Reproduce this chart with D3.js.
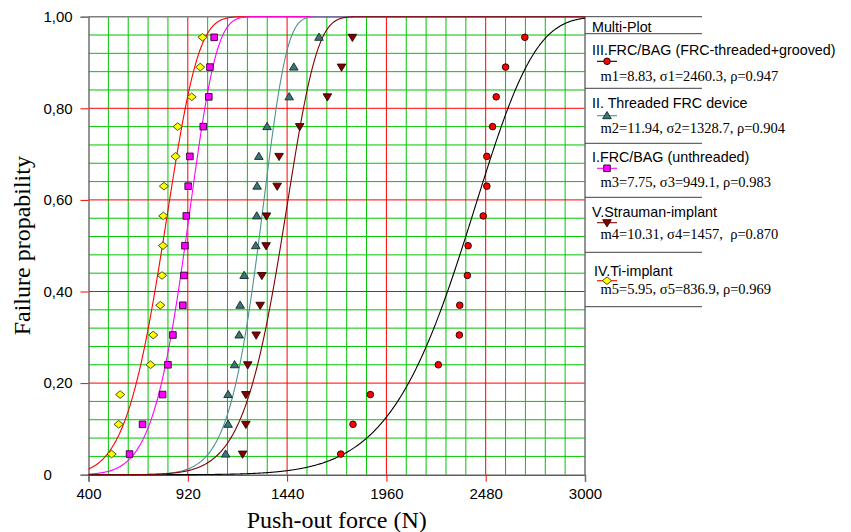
<!DOCTYPE html>
<html>
<head>
<meta charset="utf-8">
<script src="https://cdn.jsdelivr.net/npm/d3@7"></script>
<style>
  body { margin: 0; background: #fff; }
  svg { display: block; font-family: "Liberation Sans", Arial, sans-serif; }
</style>
</head>
<body>
<div id="vis"></div>
<script>
const width = 851;
const height = 532;

// median-rank failure probabilities, n = 15 per group
const ranks = [0.045, 0.110, 0.175, 0.240, 0.305, 0.370, 0.435, 0.500, 0.565, 0.630, 0.695, 0.760, 0.825, 0.890, 0.955];

// push-out forces (N), one array per group
const forceIII = [1721, 1785, 1876, 2232, 2342, 2344, 2384, 2388, 2467, 2486, 2486, 2516, 2535, 2584, 2685];
const forceII  = [1118, 1131, 1131, 1165, 1189, 1194, 1215, 1276, 1281, 1283, 1292, 1335, 1451, 1475, 1607];
const forceI   = [615, 683, 788, 816, 842, 894, 900, 905, 912, 922, 931, 1001, 1030, 1036, 1058];
const forceV   = [1207, 1224, 1224, 1234, 1278, 1299, 1308, 1330, 1332, 1388, 1398, 1506, 1651, 1725, 1782];
const forceIV  = [521, 558, 566, 725, 739, 776, 785, 790, 792, 795, 856, 867, 940, 985, 997];

// Weibull fits from the legend
const groupNames = ["III.FRC/BAG (FRC-threaded+grooved)", "II. Threaded FRC device", "I.FRC/BAG (unthreaded)", "V.Strauman-implant", "IV.Ti-implant"];
const shapes = [8.83, 11.94, 7.75, 10.31, 5.95];
const scales = [2460.3, 1328.7, 949.1, 1457, 836.9];
const rhos = ["0.947", "0.904", "0.983", "0.870", "0.969"];

const xTicks = [400, 920, 1440, 1960, 2480, 3000];
const yTicks = [0, 0.2, 0.4, 0.6, 0.8, 1.0];

const forces = [forceIII, forceII, forceI, forceV, forceIV];
const lineColors = ["#000000", "#4f9292", "#ff00ff", "#800000", "#ff0000"];
const fillColors = ["#ff0000", "#3d7575", "#ff00ff", "#800000", "#ffff00"];
const strokeColors = ["#200000", "#102828", "#300030", "#300000", "#404000"];

// custom marker shapes
const ellipse = { draw(ctx) { ctx.moveTo(3.3, 0); ctx.arc(0, 0, 3.3, 0, 2 * Math.PI); } };
const triUp = { draw(ctx) { ctx.moveTo(0, -4.2); ctx.lineTo(4.3, 3); ctx.lineTo(-4.3, 3); ctx.closePath(); } };
const triDown = { draw(ctx) { ctx.moveTo(0, 4.2); ctx.lineTo(4.3, -3); ctx.lineTo(-4.3, -3); ctx.closePath(); } };
const square = { draw(ctx) { ctx.rect(-3.3, -3.3, 6.6, 6.6); } };
const diamond = { draw(ctx) { ctx.moveTo(0, -3.8); ctx.lineTo(4.6, 0); ctx.lineTo(0, 3.8); ctx.lineTo(-4.6, 0); ctx.closePath(); } };
const symbols = [ellipse, triUp, square, triDown, diamond];

const svg = d3.select("#vis").append("svg")
  .attr("width", width)
  .attr("height", height);

svg.append("rect").attr("width", width).attr("height", height).attr("fill", "#fff");

const x = d3.scaleLinear().domain([400, 3000]).range([88.5, 585]);
const y = d3.scaleLinear().domain([0, 1]).range([474.7, 16.7]);

// grid
const minorX = d3.range(400, 3001, 104).filter(d => !xTicks.includes(d));
const minorY = d3.range(0, 1.001, 0.04).filter(d => yTicks.every(t => Math.abs(t - d) > 1e-6));

const grid = svg.append("g");
grid.selectAll(".gx").data(minorX).enter().append("line")
  .attr("x1", d => x(d)).attr("x2", d => x(d))
  .attr("y1", y(0)).attr("y2", y(1))
  .attr("stroke", "#00c400").attr("stroke-width", 1);
grid.selectAll(".gy").data(minorY).enter().append("line")
  .attr("x1", x(400)).attr("x2", x(3000))
  .attr("y1", d => y(d)).attr("y2", d => y(d))
  .attr("stroke", "#00c400").attr("stroke-width", 1);
grid.selectAll(".rx").data(xTicks.slice(1, -1)).enter().append("line")
  .attr("x1", d => x(d)).attr("x2", d => x(d))
  .attr("y1", y(0)).attr("y2", y(1))
  .attr("stroke", "#ff0000").attr("stroke-width", 1);
grid.selectAll(".ry").data(yTicks.slice(1, -1)).enter().append("line")
  .attr("x1", x(400)).attr("x2", x(3000))
  .attr("y1", d => y(d)).attr("y2", d => y(d))
  .attr("stroke", "#ff0000").attr("stroke-width", 1);

// frame
svg.append("line").attr("x1", x(400)).attr("x2", x(3000)).attr("y1", y(1)).attr("y2", y(1))
  .attr("stroke", "#808080").attr("stroke-width", 1.5);
svg.append("line").attr("x1", x(3000)).attr("x2", x(3000)).attr("y1", y(1)).attr("y2", y(0))
  .attr("stroke", "#707070").attr("stroke-width", 1.5);

// axes
const tickColor = (d, first, last) => (d === first || d === last) ? "#707070" : "#ff0000";

const xAxis = svg.append("g")
  .attr("transform", `translate(0,${y(0)})`)
  .call(d3.axisBottom(x).tickValues(xTicks).tickSize(7).tickPadding(6.5).tickFormat(d3.format("d")));
xAxis.select(".domain").attr("stroke", "#606060").attr("stroke-width", 1.5);
xAxis.selectAll(".tick line").attr("stroke", d => tickColor(d, 400, 3000)).attr("stroke-width", 1);
xAxis.selectAll(".tick text").attr("fill", "#000").style("font-size", "15px")
  .style("font-family", "'Liberation Sans', Arial, sans-serif");

const yAxis = svg.append("g")
  .attr("transform", `translate(${x(400)},0)`)
  .call(d3.axisLeft(y).tickValues(yTicks).tickSize(8)
    .tickFormat(d => d === 0 ? "0" : d.toFixed(2).replace(".", ",")));
yAxis.select(".domain").attr("stroke", "#707070").attr("stroke-width", 1.5);
yAxis.selectAll(".tick line").attr("stroke", d => tickColor(d, 0, 1)).attr("stroke-width", 1);
yAxis.selectAll(".tick text").attr("fill", "#000").attr("text-anchor", "start").attr("x", -45)
  .style("font-size", "15px").style("font-family", "'Liberation Sans', Arial, sans-serif");

// fitted Weibull curves
const forceSteps = d3.range(400, 3001, 4);
const line = d3.line().x(d => x(d[0])).y(d => y(d[1]));
const drawOrder = [4, 2, 1, 0, 3];
drawOrder.forEach(i => {
  const pts = forceSteps.map(f => [f, 1 - Math.exp(-Math.pow(f / scales[i], shapes[i]))]);
  svg.append("path")
    .datum(pts)
    .attr("d", line)
    .attr("fill", "none")
    .attr("stroke", lineColors[i])
    .attr("stroke-width", 1.1);
});

// data points
forces.forEach((fs, i) => {
  const sym = d3.symbol().type(symbols[i]);
  svg.append("g").selectAll("path")
    .data(fs.map((f, k) => [f, ranks[k]]))
    .enter().append("path")
    .attr("transform", d => `translate(${x(d[0])},${y(d[1])})`)
    .attr("d", sym)
    .attr("fill", fillColors[i])
    .attr("stroke", strokeColors[i])
    .attr("stroke-width", 0.9);
});

// axis titles
svg.append("text")
  .attr("x", (x(400) + x(3000)) / 2)
  .attr("y", 527.5)
  .attr("text-anchor", "middle")
  .style("font-family", "'Liberation Serif', 'Times New Roman', serif")
  .style("font-size", "24px")
  .text("Push-out force (N)");

svg.append("text")
  .attr("transform", `translate(29.5,${(y(0) + y(1)) / 2}) rotate(-90)`)
  .attr("text-anchor", "middle")
  .style("font-family", "'Liberation Serif', 'Times New Roman', serif")
  .style("font-size", "24px")
  .text("Failure propability");

// legend panel
const legend = svg.append("g");
const rules = [16.7, 33.7, 88.3, 143.3, 197.3, 252.3, 306.7];
legend.selectAll("line.rule").data(rules).enter().append("line")
  .attr("x1", 585).attr("x2", 702)
  .attr("y1", d => d).attr("y2", d => d)
  .attr("stroke", "#404040").attr("stroke-width", 1);

legend.append("text")
  .attr("x", 592).attr("y", 31.5)
  .style("font-size", "14.3px")
  .text("Multi-Plot");

const headY = [55.3, 108, 161.7, 216.7, 276];
const markY = [61.3, 115.7, 168.3, 222.7, 280.7];
const paramY = [81, 133.3, 186.7, 239.3, 294];

groupNames.forEach((name, i) => {
  legend.append("text")
    .attr("x", i === 4 ? 594 : 592).attr("y", headY[i])
    .style("font-size", "14.3px")
    .text(name);
  legend.append("line")
    .attr("x1", 597).attr("x2", 617)
    .attr("y1", markY[i]).attr("y2", markY[i])
    .attr("stroke", lineColors[i]).attr("stroke-width", 1.1);
  legend.append("path")
    .attr("transform", `translate(607,${markY[i]})`)
    .attr("d", d3.symbol().type(symbols[i]))
    .attr("fill", fillColors[i])
    .attr("stroke", strokeColors[i])
    .attr("stroke-width", 0.9);
  legend.append("text")
    .attr("x", 600.5).attr("y", paramY[i])
    .style("font-family", "'Liberation Serif', 'Times New Roman', serif")
    .style("font-size", "14.5px")
    .style("white-space", "pre")
    .text(`m${i + 1}=${shapes[i]}, σ${i + 1}=${scales[i]},${i === 3 ? "  " : " "}ρ=${rhos[i]}`);
});
</script>
</body>
</html>
